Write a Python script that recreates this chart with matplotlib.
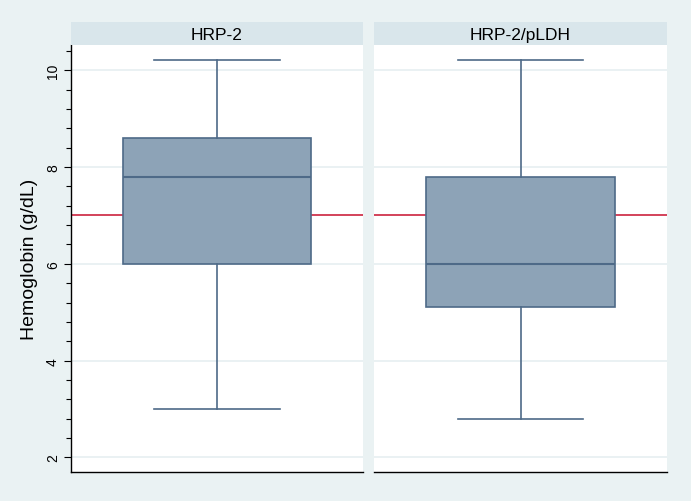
import matplotlib
matplotlib.use("Agg")
import matplotlib.pyplot as plt
from matplotlib.ticker import MultipleLocator

plt.rcParams['font.family'] = ['Liberation Sans', 'DejaVu Sans']

groups = ["HRP-2", "HRP-2/pLDH"]
whislo = [3.0, 2.8]
q1 = [6.0, 5.1]
med = [7.8, 6.0]
q3 = [8.6, 7.8]
whishi = [10.2, 10.2]
ref_line = 7.0
yticks = [2, 4, 6, 8, 10]
ylabel = "Hemoglobin (g/dL)"

bg = "#EAF2F3"
strip_c = "#D9E6EB"
box_face = "#8DA3B7"
box_edge = "#4E6A88"
grid_c = "#E6EFF1"
red = "#C8102E"

fig = plt.figure(figsize=(6.91, 5.02), dpi=100, facecolor=bg)
W, H = 691, 502
panels = [(71, 292), (374, 293)]
top, bottom = 46, 473

for i, (x0, w) in enumerate(panels):
    ax = fig.add_axes([x0 / W, 1 - bottom / H, w / W, (bottom - top) / H])
    ax.set_facecolor("white")
    ax.set_xlim(0, 1)
    ax.set_ylim(1.70, 10.52)
    for y in yticks:
        ax.axhline(y, color=grid_c, lw=1.2, zorder=0)
    ax.axhline(ref_line, color=red, lw=1.1, zorder=1)
    stats = [dict(whislo=whislo[i], q1=q1[i], med=med[i], q3=q3[i], whishi=whishi[i], label=groups[i])]
    ax.bxp(stats, positions=[0.5], widths=0.645, showfliers=False, patch_artist=True,
           boxprops=dict(facecolor=box_face, edgecolor=box_edge, linewidth=1.2),
           medianprops=dict(color=box_edge, linewidth=1.5),
           whiskerprops=dict(color=box_edge, linewidth=1.2),
           capprops=dict(color=box_edge, linewidth=1.2),
           capwidths=0.43, zorder=2)
    ax.set_xlim(0, 1)
    ax.set_xticks([])
    for s in ["top", "right"]:
        ax.spines[s].set_visible(False)
    ax.spines["bottom"].set_color("black")
    ax.spines["bottom"].set_linewidth(1.0)
    if i == 0:
        ax.spines["left"].set_color("black")
        ax.spines["left"].set_linewidth(1.0)
        ax.set_yticks(yticks)
        ax.set_yticklabels([str(t) for t in yticks], rotation=90, va="center", fontsize=10)
        ax.yaxis.set_minor_locator(MultipleLocator(0.4))
        ax.tick_params(axis="y", which="major", length=5, width=0.8, pad=3)
        ax.tick_params(axis="y", which="minor", length=3.5, width=0.8)
        ax.set_ylabel(ylabel, fontsize=14, labelpad=6)
    else:
        ax.spines["left"].set_visible(False)
        ax.set_yticks([])
    # strip
    sax = fig.add_axes([x0 / W, 1 - top / H, w / W, 23 / H])
    sax.set_facecolor(strip_c)
    sax.set_xticks([]); sax.set_yticks([])
    for s in sax.spines.values():
        s.set_visible(False)
    sax.text(0.5, 0.45, groups[i], ha="center", va="center", fontsize=12.5, transform=sax.transAxes)

fig.savefig("out.png", dpi=100, facecolor=bg)
